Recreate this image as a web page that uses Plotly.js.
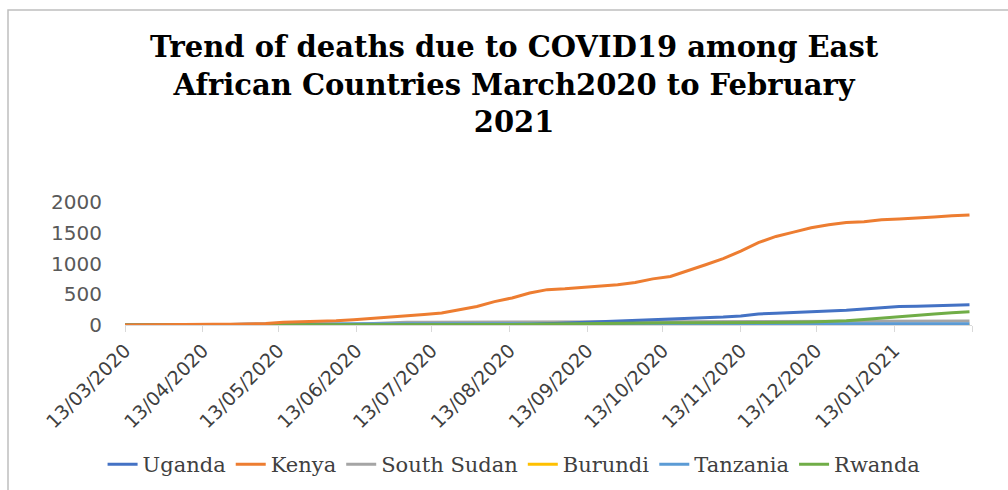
<!DOCTYPE html>
<html>
<head>
<meta charset="utf-8">
<script src="https://cdn.plot.ly/plotly-3.0.1.min.js"></script>
<style>
html,body{margin:0;padding:0;background:#fff;}
#chart{width:1008px;height:490px;}
</style>
</head>
<body>
<div id="chart"></div>
<script>
// Weekly dates, 13/03/2020 to 12/02/2021
const dates = [
 "2020-03-13","2020-03-20","2020-03-27","2020-04-03","2020-04-10","2020-04-17","2020-04-24",
 "2020-05-01","2020-05-08","2020-05-15","2020-05-22","2020-05-29","2020-06-05","2020-06-12",
 "2020-06-19","2020-06-26","2020-07-03","2020-07-10","2020-07-17","2020-07-24","2020-07-31",
 "2020-08-07","2020-08-14","2020-08-21","2020-08-28","2020-09-04","2020-09-11","2020-09-18",
 "2020-09-25","2020-10-02","2020-10-09","2020-10-16","2020-10-23","2020-10-30","2020-11-06",
 "2020-11-13","2020-11-20","2020-11-27","2020-12-04","2020-12-11","2020-12-18","2020-12-25",
 "2021-01-01","2021-01-08","2021-01-15","2021-01-22","2021-01-29","2021-02-05","2021-02-12"
];
const uganda = [0,0,0,0,0,0,0, 0,0,0,0,0,0,0, 0,0,0,0,0,2,3, 4,6,10,20,30,40,50, 60,70,90,97,100,110,130, 148,180,190,200,215,230,240, 260,285,300,305,315,325,328];
const kenya = [0,0,1,4,7,12,14, 17,23,45,50,58,69,85, 105,130,140,170,195,250,300, 380,440,520,575,590,610,630, 655,690,750,790,880,980,1080, 1200,1340,1440,1510,1580,1630,1665, 1680,1710,1725,1735,1755,1775,1790];
const southSudan = [0,0,0,0,0,0,0, 0,0,0,4,6,10,14, 26,36,45,46,47,47,47, 48,48,49,49,49,49,49, 50,52,55,56,57,58,59, 59,60,60,61,62,62,62, 63,63,63,64,64,64,65];
const burundi = [0,0,0,0,1,1,1, 1,1,1,1,1,1,1, 1,1,1,1,1,1,1, 1,1,1,1,1,1,1, 1,1,1,1,1,1,1, 1,1,1,2,2,2,2, 2,2,2,2,2,2,2];
const tanzania = [0,0,0,3,4,10,10, 16,21,21,21,21,21,21, 21,21,21,21,21,21,21, 21,21,21,21,21,21,21, 21,21,21,21,21,21,21, 21,21,21,21,21,21,21, 21,21,21,21,21,21,21];
const rwanda = [0,0,0,0,0,0,0, 0,0,0,0,0,0,2, 2,2,3,4,5,5,5, 5,7,13,17,20,25,28, 30,32,34,35,35,35,35, 36,37,40,44,50,55,70, 90,115,135,160,180,200,215];

const tickDates = ["2020-03-13","2020-04-13","2020-05-13","2020-06-13","2020-07-13","2020-08-13","2020-09-13","2020-10-13","2020-11-13","2020-12-13","2021-01-13"];
const tickLabels = ["13/03/2020","13/04/2020","13/05/2020","13/06/2020","13/07/2020","13/08/2020","13/09/2020","13/10/2020","13/11/2020","13/12/2020","13/01/2021"];
const yTicks = [0,500,1000,1500,2000];

const seriesNames = ["Uganda","Kenya","South Sudan","Burundi","Tanzania","Rwanda"];
const seriesValues = [uganda,kenya,southSudan,burundi,tanzania,rwanda];
const seriesColors = ["#4472C4","#ED7D31","#A5A5A5","#FFC000","#5B9BD5","#70AD47"];

// draw order so Kenya/Uganda/Rwanda sit on top like the reference
const drawOrder = [2,3,4,0,5,1];
const traces = drawOrder.map(i => ({
  type: "scatter", mode: "lines", name: seriesNames[i],
  x: dates, y: seriesValues[i],
  line: {color: seriesColors[i], width: 3},
  legendrank: i + 1
}));

const layout = {
  width: 1008, height: 490,
  paper_bgcolor: "#ffffff", plot_bgcolor: "#ffffff",
  margin: {l: 125, r: 36, t: 202, b: 165},
  title: {
    text: "Trend of deaths due to COVID19 among East<br>African Countries March2020 to February<br>2021",
    font: {family: "DejaVu Serif", size: 29, color: "#000000", weight: "bold"},
    x: 0.51, xref: "container", xanchor: "center",
    y: 0.884, yref: "container", yanchor: "top"
  },
  xaxis: {
    type: "date",
    range: ["2020-03-13", "2021-02-13"],
    tickvals: tickDates.concat(["2021-02-13"]),
    ticktext: tickLabels.concat([""]),
    tickangle: -45,
    tickfont: {family: "DejaVu Sans", size: 19, color: "#404040"},
    showline: true, linecolor: "#d9d9d9", linewidth: 1,
    ticks: "outside", ticklen: 6, tickcolor: "#d9d9d9",
    showgrid: false, zeroline: false, fixedrange: true
  },
  yaxis: {
    range: [0, 2000],
    tickvals: yTicks,
    ticktext: yTicks.map(String),
    tickfont: {family: "DejaVu Sans", size: 20, color: "#595959"},
    showline: false, showgrid: false, zeroline: false,
    ticks: "", ticklabelstandoff: 22, fixedrange: true
  },
  showlegend: true,
  legend: {
    orientation: "h", x: 0.51, xref: "container", xanchor: "center",
    y: 0.052, yref: "container", yanchor: "middle",
    font: {family: "DejaVu Serif", size: 21, color: "#404040"},
    tracegroupgap: 0, traceorder: "normal"
  },
  shapes: [{
    type: "rect", xref: "paper", yref: "paper",
    x0: (8 - 125) / 847, x1: (1012 - 125) / 847,
    y0: (325 - 495) / 123, y1: (325 - 10) / 123,
    line: {color: "#bfbfbf", width: 1.5}, fillcolor: "rgba(0,0,0,0)", layer: "below"
  }]
};

Plotly.newPlot("chart", traces, layout, {displayModeBar: false, staticPlot: true});
</script>
</body>
</html>
